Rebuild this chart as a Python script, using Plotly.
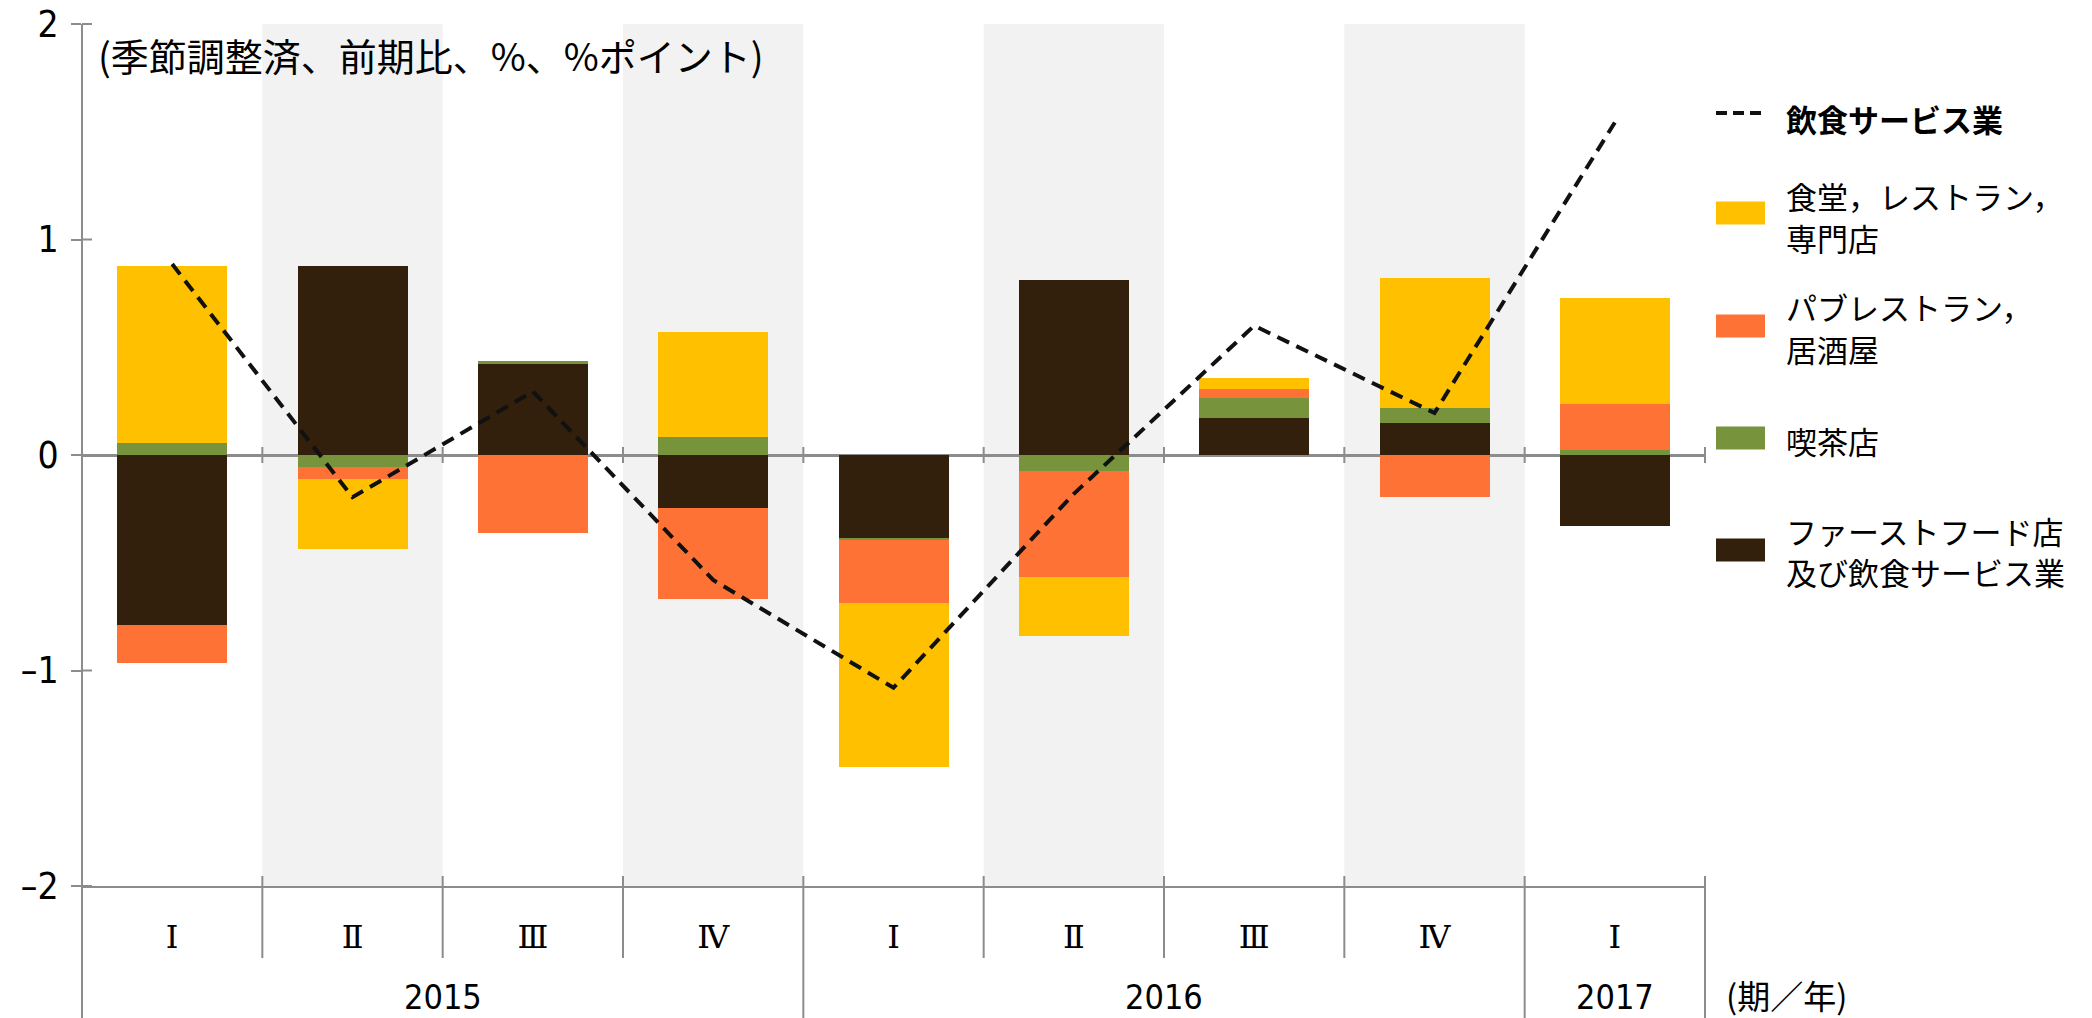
import plotly.graph_objects as go

# ---------------- data ----------------
quarters = ["Ⅰ", "Ⅱ", "Ⅲ", "Ⅳ", "Ⅰ", "Ⅱ", "Ⅲ", "Ⅳ", "Ⅰ"]
years = ["2015", "2015", "2015", "2015", "2016", "2016", "2016", "2016", "2017"]

total_food_service = [0.886, -0.196, 0.295, -0.58, -1.08, -0.18, 0.60, 0.195, 1.543]
fastfood_other = [-0.79, 0.876, 0.42, -0.247, -0.383, 0.81, 0.174, 0.15, -0.328]
cafe = [0.056, -0.056, 0.015, 0.085, -0.013, -0.074, 0.09, 0.068, 0.023]
pub_izakaya = [-0.175, -0.056, -0.364, -0.423, -0.292, -0.49, 0.042, -0.193, 0.213]
restaurant = [0.82, -0.324, 0.0, 0.485, -0.76, -0.274, 0.051, 0.602, 0.491]

series_names = {
    "total": ["飲食サービス業"],
    "restaurant": ["食堂，レストラン，", "専門店"],
    "pub": ["パブレストラン，", "居酒屋"],
    "cafe": ["喫茶店"],
    "fastfood": ["ファーストフード店", "及び飲食サービス業"],
}
y_ticks = [-2, -1, 0, 1, 2]
title_text = "(季節調整済、前期比、%、%ポイント)"
x_unit_text = "(期／年)"

# ---------------- styles ----------------
C_YELLOW = "#FFC000"
C_ORANGE = "#FF7236"
C_GREEN = "#77933C"
C_BROWN = "#321F0C"
C_GRAY = "#8C8C8C"
C_SHADE = "#F2F2F2"
JP = "Noto Sans CJK JP"
NUM = "DejaVu Sans Condensed, Liberation Sans Narrow, Liberation Sans, sans-serif"
ROMAN = "DejaVu Serif, Noto Sans CJK JP, serif"

W, H = 2092, 1018
ML, MR, MT, MB = 82, 387, 24, 132
PW, PH = W - ML - MR, H - MT - MB

idx = list(range(len(quarters)))
xr = [-0.5, len(quarters) - 0.5]


def xp(v):
    return (v - xr[0]) / (xr[1] - xr[0])


def ypx(py):  # screen pixel y -> paper
    return (H - MB - py) / PH


def xpx(px):
    return (px - ML) / PW


fig = go.Figure()
for key, vals, col in [
    ("fastfood", fastfood_other, C_BROWN),
    ("cafe", cafe, C_GREEN),
    ("pub", pub_izakaya, C_ORANGE),
    ("restaurant", restaurant, C_YELLOW),
]:
    fig.add_trace(go.Bar(x=idx, y=vals, name="".join(series_names[key]), marker_color=col,
                         marker_line_width=0, width=0.61, showlegend=False))

fig.add_trace(go.Scatter(x=idx, y=total_food_service, mode="lines", name=series_names["total"][0],
                         line=dict(color="#111111", width=4, dash="13px,8px"), showlegend=False))

shapes = []
for i in idx:
    if i % 2 == 1:
        shapes.append(dict(type="rect", xref="x", yref="paper", x0=i - 0.5, x1=i + 0.5, y0=0, y1=1,
                           fillcolor=C_SHADE, line_width=0, layer="below"))

line_style = dict(color=C_GRAY, width=2)
bottom_paper = ypx(H)
shapes.append(dict(type="line", xref="paper", yref="paper", x0=0, x1=0, y0=bottom_paper, y1=1, line=line_style))
for t in y_ticks:
    yy = (t - y_ticks[0]) / (y_ticks[-1] - y_ticks[0])
    shapes.append(dict(type="line", xref="paper", yref="paper", x0=0, x1=10 / PW, y0=yy, y1=yy, line=line_style))

year_bounds = [i + 0.5 for i in idx[:-1] if years[i] != years[i + 1]] + [xr[1]]
z = (0 - y_ticks[0]) / (y_ticks[-1] - y_ticks[0])
for b in [i + 0.5 for i in idx]:
    x = xp(b)
    y0 = bottom_paper if b in year_bounds else -72 / PH
    shapes.append(dict(type="line", xref="paper", yref="paper", x0=x, x1=x, y0=y0, y1=10 / PH, line=line_style))
    shapes.append(dict(type="line", xref="paper", yref="paper", x0=x, x1=x, y0=z - 8 / PH, y1=z + 8 / PH, line=line_style))

annotations = []
for yv in sorted(set(years)):
    members = [i for i in idx if years[i] == yv]
    annotations.append(dict(x=sum(members) / len(members), xref="x", y=ypx(997), yref="paper",
                            text=yv, showarrow=False, xanchor="center", yanchor="middle",
                            font=dict(family=NUM, size=34, color="#000")))
annotations.append(dict(x=xpx(1724), xref="paper", y=ypx(995), yref="paper", text=x_unit_text,
                        showarrow=False, xanchor="left", yanchor="middle",
                        font=dict(family=JP, size=33, color="#000")))
annotations.append(dict(x=xpx(96), xref="paper", y=ypx(54), yref="paper", text=title_text,
                        showarrow=False, xanchor="left", yanchor="middle",
                        font=dict(family=JP, size=38, color="#000")))

# manual legend: (key, colour, swatch centre y, text line centre ys, bold)
leg_items = [
    ("total", None, 113, [118], True),
    ("restaurant", C_YELLOW, 213, [196, 238], False),
    ("pub", C_ORANGE, 326, [306, 348], False),
    ("cafe", C_GREEN, 438, [440], False),
    ("fastfood", C_BROWN, 550, [530, 571], False),
]
for key, col, sy, tys, bold in leg_items:
    if col is None:
        shapes.append(dict(type="line", xref="paper", yref="paper", x0=xpx(1716), x1=xpx(1765),
                           y0=ypx(sy), y1=ypx(sy), line=dict(color="#111111", width=4, dash="11px,6px")))
    else:
        shapes.append(dict(type="rect", xref="paper", yref="paper", x0=xpx(1716), x1=xpx(1765),
                           y0=ypx(sy + 11.5), y1=ypx(sy - 11.5), fillcolor=col, line_width=0))
    for txt, ty in zip(series_names[key], tys):
        if bold:
            txt = "<b>" + txt + "</b>"
        annotations.append(dict(x=xpx(1784), xref="paper", y=ypx(ty), yref="paper", text=txt,
                                showarrow=False, xanchor="left", yanchor="middle", align="left",
                                font=dict(family=JP, size=31, color="#000")))

fig.update_layout(
    width=W, height=H,
    margin=dict(l=ML, r=MR, t=MT, b=MB, pad=0, autoexpand=False),
    paper_bgcolor="white", plot_bgcolor="white",
    barmode="relative", bargap=0,
    showlegend=False,
    shapes=shapes, annotations=annotations,
    xaxis=dict(range=xr, tickvals=idx, ticktext=quarters, showgrid=False, zeroline=False,
               showline=True, linecolor=C_GRAY, linewidth=2, ticks="", automargin=False,
               tickfont=dict(family=ROMAN, size=32, color="#000"), ticklabelstandoff=22),
    yaxis=dict(range=[y_ticks[0], y_ticks[-1]], tickvals=y_ticks,
               ticktext=[str(t).replace("-", "–") for t in y_ticks],
               showgrid=False, zeroline=True, zerolinecolor=C_GRAY, zerolinewidth=2.5,
               showline=False, ticks="outside", ticklen=10, tickwidth=2, tickcolor=C_GRAY,
               tickfont=dict(family=NUM, size=37, color="#000"), ticklabelstandoff=5,
               automargin=False, layer="above traces"),
    font=dict(family=JP),
)

fig.write_html("out.html", config={"displayModeBar": False},
               post_script="document.body.style.margin='0';document.body.style.overflow='hidden';")
